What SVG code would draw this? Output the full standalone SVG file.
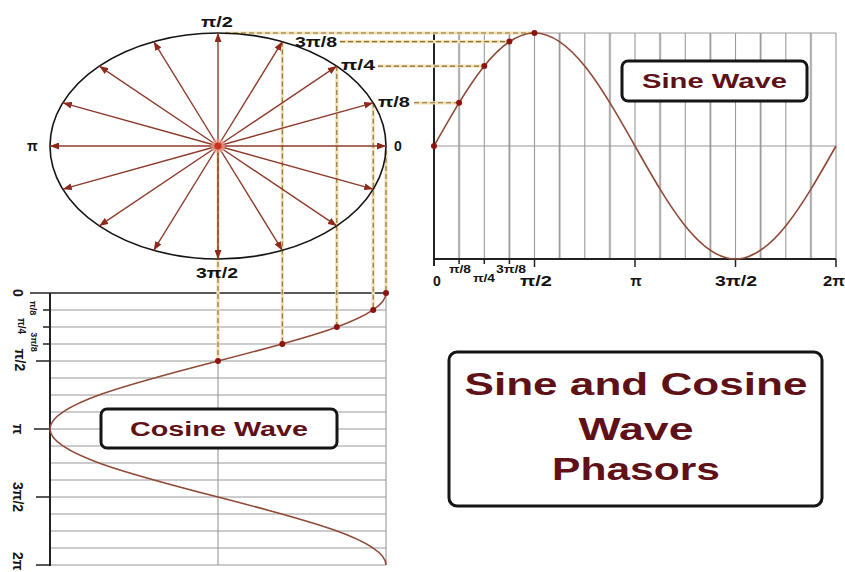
<svg xmlns="http://www.w3.org/2000/svg" width="845" height="572" viewBox="0 0 845 572">
<defs>
<marker id="ah" markerUnits="userSpaceOnUse" markerWidth="9" markerHeight="7" refX="9" refY="3.5" orient="auto">
<path d="M0,0 L9,3.5 L0,7 z" fill="#8e2a1c"/>
</marker>
<style>
.lbl{font-family:"Liberation Sans",Arial,sans-serif;font-weight:bold;fill:#141414}
.ttl{font-family:"Liberation Sans",Arial,sans-serif;font-weight:bold;fill:#5e1117}
.grid{stroke:#9a9a9a;stroke-width:1.1;fill:none}
.gridl{stroke:#d2d2d2;stroke-width:2.6;fill:none}
.axis{stroke:#222;stroke-width:2;fill:none}
.vec{stroke:#8e3b2c;stroke-width:1.4;fill:none;marker-end:url(#ah)}
.dashu{stroke:#f1e2b6;stroke-width:3.2;fill:none}
.dash{stroke:#8a6a36;stroke-width:1.1;stroke-dasharray:5 3;fill:none}
.wave{stroke:#8f4a38;stroke-width:1.6;fill:none}
.dot{fill:#8e1414}
.box{fill:#fff;stroke:#151515;stroke-width:3}
</style>
</defs>
<rect width="845" height="572" fill="#fff"/>

<!-- sine grid -->
<g id="sine-grid">
<path class="gridl" d="M459.1,33V259M509.4,33V259M559.6,33V259M609.9,33V259M660.1,33V259M710.4,33V259M760.6,33V259M810.9,33V259"/>
<path class="grid" d="M459.1,33V259M484.3,33V259M509.4,33V259M534.5,33V259M559.6,33V259M584.8,33V259M609.9,33V259M635,33V259M660.1,33V259M685.3,33V259M710.4,33V259M735.5,33V259M760.6,33V259M785.8,33V259M810.9,33V259M836,33V259"/>
<path class="grid" d="M434,33H836M434,146H836"/>
<path class="axis" d="M434,33V266M434,259H836" />
<path stroke="#222" stroke-width="1.5" d="M459.1,259V264M484.3,259V264M509.4,259V264M534.5,259V267M635,259V267M735.5,259V267M836,259V267"/>
</g>

<!-- cosine grid -->
<g id="cosine-grid">
<path class="grid" d="M50,310H386M50,327H386M50,344H386M50,361H386M50,378H386M50,395H386M50,412H386M50,429H386M50,446H386M50,463H386M50,480H386M50,497H386M50,514H386M50,531H386M50,548H386M50,565H386"/>
<path class="grid" d="M218,293V565M386,293V565"/>
<path stroke="#222" stroke-width="1.5" fill="none" d="M30,293H386"/>
<path class="axis" d="M50,293V566"/>
<path stroke="#222" stroke-width="1.5" d="M43,310H50M43,327H50M43,344H50M36,361H50M34,429H50M36,497H50M36,565H50"/>
</g>

<!-- projection lines -->
<g id="connectors">
<path class="dashu" d="M225,33H534.5M340,41.6H509.4M378,66.1H484.3M414,102.8H459.1M282.3,41.6V344M336.8,66.1V327M373.2,102.8V310M386,150V293M218,150V361"/>
<path class="dash" d="M225,33H534.5M340,41.6H509.4M378,66.1H484.3M414,102.8H459.1M282.3,41.6V344M336.8,66.1V327M373.2,102.8V310M386,150V293M218,150V361"/>
</g>

<!-- phasor circle -->
<g id="phasor-circle">
<ellipse cx="218" cy="146" rx="168" ry="113" fill="none" stroke="#141414" stroke-width="1.6"/>
<path class="vec" d="M218,146L386,146"/>
<path class="vec" d="M218,146L373.2,102.8"/>
<path class="vec" d="M218,146L336.8,66.1"/>
<path class="vec" d="M218,146L282.3,41.6"/>
<path class="vec" d="M218,146L218,33"/>
<path class="vec" d="M218,146L153.7,41.6"/>
<path class="vec" d="M218,146L99.2,66.1"/>
<path class="vec" d="M218,146L62.8,102.8"/>
<path class="vec" d="M218,146L50,146"/>
<path class="vec" d="M218,146L62.8,189.2"/>
<path class="vec" d="M218,146L99.2,225.9"/>
<path class="vec" d="M218,146L153.7,250.4"/>
<path class="vec" d="M218,146L218,259"/>
<path class="vec" d="M218,146L282.3,250.4"/>
<path class="vec" d="M218,146L336.8,225.9"/>
<path class="vec" d="M218,146L373.2,189.2"/>
<circle cx="218" cy="146" r="7" fill="#f2a08c" opacity="0.7"/>
<circle cx="218" cy="146" r="3.5" fill="#c8321e"/>
<text class="lbl" x="217" y="27" font-size="14" text-anchor="middle" textLength="32" lengthAdjust="spacingAndGlyphs">π/2</text>
<text class="lbl" x="295" y="47" font-size="14" textLength="42" lengthAdjust="spacingAndGlyphs">3π/8</text>
<text class="lbl" x="341" y="70" font-size="14" textLength="34" lengthAdjust="spacingAndGlyphs">π/4</text>
<text class="lbl" x="378" y="107" font-size="14" textLength="32" lengthAdjust="spacingAndGlyphs">π/8</text>
<text class="lbl" x="394" y="151" font-size="14">0</text>
<text class="lbl" x="27" y="151" font-size="14">π</text>
<text class="lbl" x="217" y="278" font-size="14" text-anchor="middle" textLength="42" lengthAdjust="spacingAndGlyphs">3π/2</text>
</g>

<!-- sine wave -->
<g id="sine-wave">
<path class="wave" d="M434,146 C466.8,88.1 498.1,33 534.5,33 C570.9,33 602.2,88.1 635,146 C667.8,203.9 699.1,259 735.5,259 C771.9,259 803.2,203.9 836,146"/>
<circle class="dot" cx="434" cy="146" r="3"/>
<circle class="dot" cx="459.1" cy="102.8" r="3"/>
<circle class="dot" cx="484.3" cy="66.1" r="3"/>
<circle class="dot" cx="509.4" cy="41.6" r="3"/>
<circle class="dot" cx="534.5" cy="33" r="3"/>
<text class="lbl" x="437" y="286" font-size="14" text-anchor="middle">0</text>
<text class="lbl" x="460" y="273" font-size="10" text-anchor="middle" textLength="22" lengthAdjust="spacingAndGlyphs">π/8</text>
<text class="lbl" x="484" y="282" font-size="10" text-anchor="middle" textLength="22" lengthAdjust="spacingAndGlyphs">π/4</text>
<text class="lbl" x="511" y="273" font-size="10" text-anchor="middle" textLength="30" lengthAdjust="spacingAndGlyphs">3π/8</text>
<text class="lbl" x="536" y="286" font-size="15" text-anchor="middle" textLength="32" lengthAdjust="spacingAndGlyphs">π/2</text>
<text class="lbl" x="636" y="286" font-size="15" text-anchor="middle">π</text>
<text class="lbl" x="736" y="286" font-size="15" text-anchor="middle" textLength="42" lengthAdjust="spacingAndGlyphs">3π/2</text>
<text class="lbl" x="823" y="286" font-size="15" textLength="22" lengthAdjust="spacingAndGlyphs">2π</text>
</g>

<!-- cosine wave -->
<g id="cosine-wave">
<path class="wave" d="M386,293 C386,317.6 304.1,338.8 218,361 C131.9,383.2 50,404.4 50,429 C50,453.6 131.9,474.8 218,497 C304.1,519.2 386,540.4 386,565"/>
<circle class="dot" cx="386" cy="293" r="3"/>
<circle class="dot" cx="373.2" cy="310" r="3"/>
<circle class="dot" cx="336.8" cy="327" r="3"/>
<circle class="dot" cx="282.3" cy="344" r="3"/>
<circle class="dot" cx="218" cy="361" r="3"/>
<text class="lbl" font-size="14" text-anchor="middle" transform="translate(13,293) rotate(90)">0</text>
<text class="lbl" font-size="9" text-anchor="middle" transform="translate(30,308) rotate(90)">π/8</text>
<text class="lbl" font-size="10" text-anchor="middle" transform="translate(18,326) rotate(90)">π/4</text>
<text class="lbl" font-size="9" text-anchor="middle" transform="translate(31,342) rotate(90)">3π/8</text>
<text class="lbl" font-size="14" text-anchor="middle" transform="translate(15,360) rotate(90)">π/2</text>
<text class="lbl" font-size="14" text-anchor="middle" transform="translate(13,429) rotate(90)">π</text>
<text class="lbl" font-size="14" text-anchor="middle" transform="translate(13,497) rotate(90)">3π/2</text>
<text class="lbl" font-size="14" transform="translate(13,552) rotate(90)">2π</text>
</g>

<g id="sine-label">
<rect class="box" x="622" y="61" width="185" height="40" rx="6"/>
<text class="ttl" x="714.5" y="88" font-size="20" text-anchor="middle" textLength="145" lengthAdjust="spacingAndGlyphs">Sine Wave</text>
</g>

<g id="cosine-label">
<rect class="box" x="101" y="409" width="236" height="39" rx="6"/>
<text class="ttl" x="219" y="436" font-size="20" text-anchor="middle" textLength="178" lengthAdjust="spacingAndGlyphs">Cosine Wave</text>
</g>

<g id="title">
<rect class="box" x="449" y="352" width="373" height="154" rx="8" stroke-width="2.6"/>
<text class="ttl" x="636" y="395" font-size="32" text-anchor="middle" textLength="343" lengthAdjust="spacingAndGlyphs">Sine and Cosine</text>
<text class="ttl" x="636" y="440" font-size="32" text-anchor="middle" textLength="115" lengthAdjust="spacingAndGlyphs">Wave</text>
<text class="ttl" x="636" y="480" font-size="32" text-anchor="middle" textLength="168" lengthAdjust="spacingAndGlyphs">Phasors</text>
</g>
</svg>
